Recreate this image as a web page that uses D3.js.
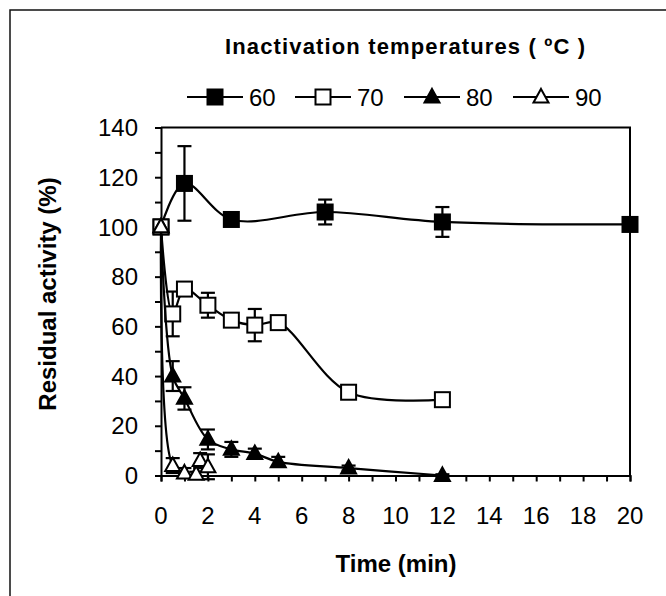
<!DOCTYPE html>
<html>
<head>
<meta charset="utf-8">
<script src="https://cdn.jsdelivr.net/npm/d3@7"></script>
<style>
  body { margin: 0; background: #fff; }
  text { font-family: "Liberation Sans", Arial, sans-serif; fill: #000; }
</style>
</head>
<body>
<script>
// Temperatures (series names)
const temps = ["60", "70", "80", "90"];

// Time points (min), residual activity (%) and error bars for each temperature
const time60 = [0, 1, 3, 7, 12, 20];
const act60  = [100, 117.5, 103, 106, 102, 101];
const err60  = [0, 15, 1.5, 5, 6, 1.5];

const time70 = [0, 0.5, 1, 2, 3, 4, 5, 8, 12];
const act70  = [100, 65, 75, 68.5, 62.5, 60.5, 61.5, 33.5, 30.5];
const err70  = [0, 9, 2, 5, 2, 6.5, 2, 2, 1];

const time80 = [0, 0.5, 1, 2, 3, 4, 5, 8, 12];
const act80  = [100, 40, 31, 14.5, 10.5, 8.8, 5.5, 3, 0];
const err80  = [0, 6, 4.5, 4, 3, 2, 2, 1, 0.5];

const time90 = [0, 0.5, 1, 1.5, 1.67, 2];
const act90  = [100, 4, 1, 0.5, 6, 3.5];
const err90  = [0, 3, 2, 1, 3, 5];

const xTicks = d3.range(0, 21, 2);
const yTicks = d3.range(0, 141, 20);

let series = [
  {name: temps[0], t: time60, v: act60, e: err60, shape: "square", fill: "#000"},
  {name: temps[1], t: time70, v: act70, e: err70, shape: "square", fill: "#fff"},
  {name: temps[2], t: time80, v: act80, e: err80, shape: "triangle", fill: "#000"},
  {name: temps[3], t: time90, v: act90, e: err90, shape: "triangle", fill: "#fff"}
].map(s => ({...s, pts: s.t.map((t, i) => ({t: t, v: s.v[i], e: s.e[i]}))}));

let width = 666, height = 596;
let svg = d3.select("body").append("svg")
  .attr("width", width)
  .attr("height", height);

// outer frame
svg.append("path")
  .attr("d", `M10,${height} V10 H${width}`)
  .attr("fill", "none")
  .attr("stroke", "#111")
  .attr("stroke-width", 1.5);

let x = d3.scaleLinear().domain([0, 20]).range([161, 630]);
let y = d3.scaleLinear().domain([0, 140]).range([475.5, 127.5]);

// plot box (top and right)
svg.append("path")
  .attr("d", `M${x(0)},${y(140)} H${x(20)} V${y(0)}`)
  .attr("fill", "none")
  .attr("stroke", "#000")
  .attr("stroke-width", 2);

// x axis
let xAxis = svg.append("g")
  .attr("transform", `translate(0,${y(0)})`)
  .call(d3.axisBottom(x).tickValues(d3.range(0, 21, 1)).tickSize(6).tickFormat(""));
xAxis.select(".domain").attr("stroke-width", 2);
xAxis.selectAll(".tick line").attr("stroke-width", 2);

svg.append("g")
  .selectAll("text")
  .data(xTicks)
  .join("text")
  .attr("x", d => x(d))
  .attr("y", 524)
  .attr("text-anchor", "middle")
  .attr("font-size", 24)
  .text(d => d);

// y axis
let yAxis = svg.append("g")
  .attr("transform", `translate(${x(0)},0)`)
  .call(d3.axisLeft(y).tickValues(d3.range(0, 141, 10)).tickSize(6).tickFormat(""));
yAxis.select(".domain").attr("stroke-width", 2);
yAxis.selectAll(".tick line").attr("stroke-width", 2);

svg.append("g")
  .selectAll("text")
  .data(yTicks)
  .join("text")
  .attr("x", 138)
  .attr("y", d => y(d))
  .attr("dy", "0.36em")
  .attr("text-anchor", "end")
  .attr("font-size", 24)
  .text(d => d);

// axis titles
svg.append("text")
  .attr("x", 396)
  .attr("y", 572)
  .attr("text-anchor", "middle")
  .attr("font-size", 24)
  .attr("font-weight", "bold")
  .text("Time (min)");

svg.append("text")
  .attr("transform", "translate(56,294) rotate(-90)")
  .attr("text-anchor", "middle")
  .attr("font-size", 24)
  .attr("font-weight", "bold")
  .text("Residual activity (%)");

// marker drawing
function marker(g, shape, fill, size) {
  if (shape === "square") {
    g.append("rect")
      .attr("x", -size / 2).attr("y", -size / 2)
      .attr("width", size).attr("height", size)
      .attr("fill", fill).attr("stroke", "#000").attr("stroke-width", 2);
  } else {
    let h = size * 0.9;
    g.append("path")
      .attr("d", `M0,${-h * 0.6} L${size / 2},${h * 0.4} L${-size / 2},${h * 0.4} Z`)
      .attr("fill", fill).attr("stroke", "#000").attr("stroke-width", 2)
      .attr("stroke-linejoin", "miter");
  }
}

let line = d3.line()
  .x(d => x(d.t))
  .y(d => y(d.v))
  .curve(d3.curveCatmullRom.alpha(0.5));

series.forEach(s => {
  let g = svg.append("g");
  // error bars
  let eb = g.selectAll(".eb")
    .data(s.pts.filter(d => d.e > 0))
    .join("g")
    .attr("stroke", "#000")
    .attr("stroke-width", 2.2);
  eb.append("line")
    .attr("x1", d => x(d.t)).attr("x2", d => x(d.t))
    .attr("y1", d => y(d.v + d.e)).attr("y2", d => y(d.v - d.e));
  eb.append("line")
    .attr("x1", d => x(d.t) - 7).attr("x2", d => x(d.t) + 7)
    .attr("y1", d => y(d.v + d.e)).attr("y2", d => y(d.v + d.e));
  eb.append("line")
    .attr("x1", d => x(d.t) - 7).attr("x2", d => x(d.t) + 7)
    .attr("y1", d => y(d.v - d.e)).attr("y2", d => y(d.v - d.e));

  g.append("path")
    .datum(s.pts)
    .attr("d", line)
    .attr("fill", "none")
    .attr("stroke", "#000")
    .attr("stroke-width", 2.2);

  g.selectAll(".m")
    .data(s.pts)
    .join("g")
    .attr("transform", d => `translate(${x(d.t)},${y(d.v)})`)
    .each(function() { marker(d3.select(this), s.shape, s.fill, 15); });
});

// legend
svg.append("text")
  .attr("x", 405)
  .attr("y", 54)
  .attr("text-anchor", "middle")
  .attr("font-size", 22)
  .attr("font-weight", "bold")
  .attr("textLength", 360)
  .attr("lengthAdjust", "spacing")
  .text("Inactivation temperatures ( \u00BAC )");

let legendX = [187, 295, 404, 513];
let legend = svg.append("g")
  .selectAll("g")
  .data(series)
  .join("g")
  .attr("transform", (d, i) => `translate(${legendX[i]},97)`);

legend.append("line")
  .attr("x1", 0).attr("x2", 56)
  .attr("stroke", "#000").attr("stroke-width", 2.2);

legend.append("g")
  .attr("transform", "translate(28,0)")
  .each(function(d) { marker(d3.select(this), d.shape, d.fill, 15); });

legend.append("text")
  .attr("x", 62)
  .attr("y", 9)
  .attr("font-size", 24)
  .text(d => d.name);
</script>
</body>
</html>
